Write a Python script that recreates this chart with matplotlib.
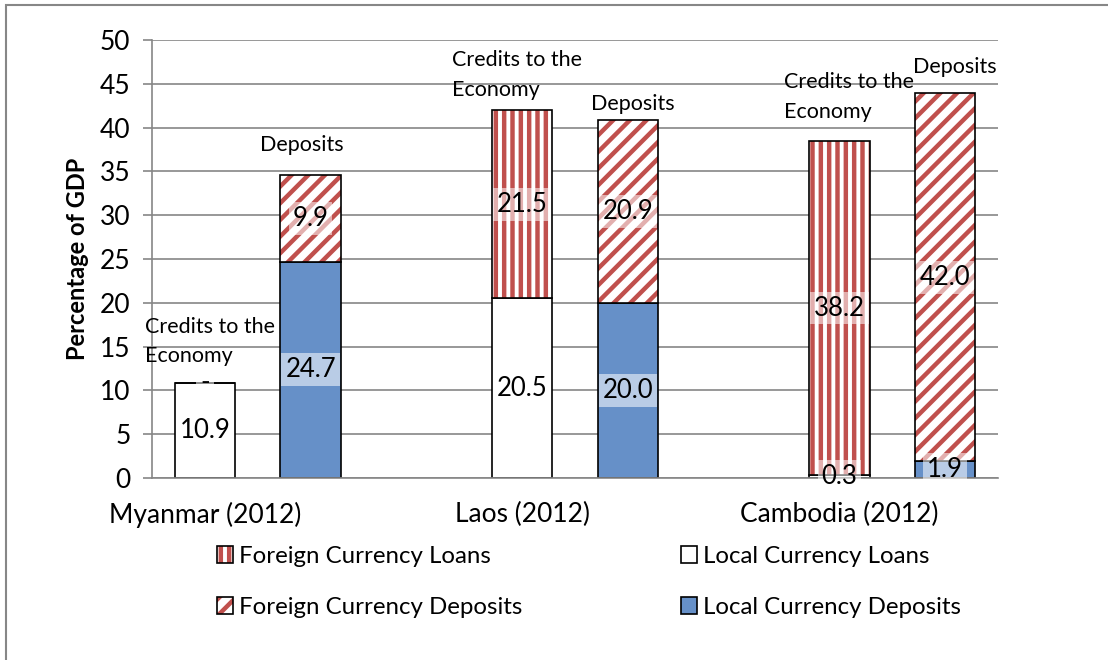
import matplotlib
matplotlib.use("Agg")
import matplotlib.pyplot as plt
from matplotlib.patches import Patch, Rectangle
from matplotlib.legend_handler import HandlerTuple

plt.rcParams["font.family"] = ["Lato", "DejaVu Sans"]
plt.rcParams["hatch.linewidth"] = 3.2

countries = ["Myanmar (2012)", "Laos (2012)", "Cambodia (2012)"]
local_loans = [10.9, 20.5, 0.3]
foreign_loans = [0.0, 21.5, 38.2]
local_deposits = [24.7, 20.0, 1.9]
foreign_deposits = [9.9, 20.9, 42.0]

red = "#C0504D"
blue = "#6690C8"
grid = "#868686"
fs_ann = 15.5   # "Credits to the Economy", "Deposits"
fs_tick = 19
fs_lab = 18.5
fs_leg = 17.3

fig = plt.figure(figsize=(11.08, 6.6), dpi=100)
ax = fig.add_axes([152 / 1108, 1 - 478 / 660, 846 / 1108, 438 / 660])

# loans at slot 0,3,6 ; deposits at slot 1,4,7
xl = [3 * i for i in range(3)]
xd = [3 * i + 1 for i in range(3)]
w = 0.57

ax.bar(xl, local_loans, w, color="white", edgecolor="black", linewidth=1.2)
ax.bar(xl, foreign_loans, w, bottom=local_loans, color="white", edgecolor=red,
       hatch="||", linewidth=0)
ax.bar(xl, foreign_loans, w, bottom=local_loans, fill=False, edgecolor="black", linewidth=1.2)

ax.bar(xd, local_deposits, w, color=blue, edgecolor="black", linewidth=1.2)
ax.bar(xd, foreign_deposits, w, bottom=local_deposits, color="white", edgecolor=red,
       hatch="//", linewidth=0)
ax.bar(xd, foreign_deposits, w, bottom=local_deposits, fill=False, edgecolor="black", linewidth=1.2)


def lab(x, y, v):
    s = f"{v:.1f}" if v else "-"
    ax.text(x, y, s, ha="center", va="center", fontsize=fs_lab,
            bbox=dict(boxstyle="square,pad=0.15", fc="white", ec="none", alpha=0.55))


for i in range(3):
    lab(xl[i], local_loans[i] / 2, local_loans[i])
    lab(xl[i], local_loans[i] + foreign_loans[i] / 2, foreign_loans[i])
    lab(xd[i], local_deposits[i] / 2, local_deposits[i])
    lab(xd[i], local_deposits[i] + foreign_deposits[i] / 2, foreign_deposits[i])

# annotations
for x, y in [(-0.566, 15.6), (2.34, 46.0), (5.48, 43.5)]:
    ax.text(x, y, "Credits to the\nEconomy", ha="left", va="center", fontsize=fs_ann,
            linespacing=1.6)
for x, y in [(0.915, 38.0), (4.047, 42.7), (7.094, 46.9)]:
    ax.text(x, y, "Deposits", ha="center", va="center", fontsize=fs_ann)

ax.set_xlim(-0.5, 7.5)
ax.set_ylim(0, 50)
ax.set_yticks(range(0, 51, 5))
ax.set_xticks(xl)
ax.set_xticklabels(countries)
ax.tick_params(axis="x", length=0, pad=17, labelsize=fs_tick)
ax.tick_params(axis="y", length=6.5, width=1.2, color=grid, pad=9, labelsize=fs_tick)
ax.yaxis.grid(True, color=grid, linewidth=1.2)
ax.set_axisbelow(True)
for s in ["top", "right"]:
    ax.spines[s].set_visible(False)
for s in ["left", "bottom"]:
    ax.spines[s].set_color(grid)
    ax.spines[s].set_linewidth(1.2)
ax.set_ylabel("Percentage of GDP", fontsize=17, fontweight="bold", labelpad=8)

# legend
h_fl = (Patch(facecolor="white", edgecolor=red, hatch="||", linewidth=0),
        Patch(fill=False, edgecolor="black", linewidth=1.2))
h_fd = (Patch(facecolor="white", edgecolor=red, hatch="//", linewidth=0),
        Patch(fill=False, edgecolor="black", linewidth=1.2))
h_ll = Patch(facecolor="white", edgecolor="black", linewidth=1.2)
h_ld = Patch(facecolor=blue, edgecolor="black", linewidth=1.2)

common = dict(frameon=False, fontsize=fs_leg, borderpad=0, borderaxespad=0,
              handlelength=0.67, handleheight=0.67, handletextpad=0.25,
              labelspacing=1.24, loc="upper left",
              handler_map={tuple: HandlerTuple(ndivide=1)})
leg1 = fig.legend([h_fl, h_fd], ["Foreign Currency Loans", "Foreign Currency Deposits"],
                  bbox_to_anchor=(217 / 1108, 1 - 546 / 660), **common)
leg2 = fig.legend([h_ll, h_ld], ["Local Currency Loans", "Local Currency Deposits"],
                  bbox_to_anchor=(681 / 1108, 1 - 546 / 660), **common)

# chart border (cropped on right and bottom)
fig.add_artist(Rectangle((6 / 1108, -0.1), 1.2, 1.1 - 5.5 / 660, transform=fig.transFigure,
                         fill=False, edgecolor="#878787", linewidth=1.5))

fig.savefig("out.png", dpi=100)
